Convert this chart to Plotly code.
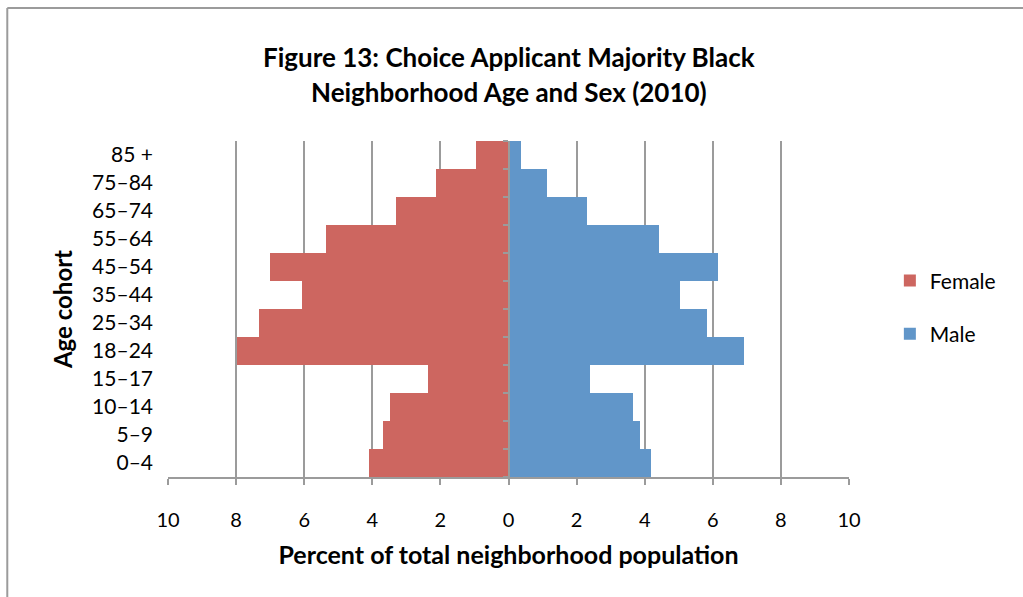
import plotly.graph_objects as go

# Age cohorts, bottom to top
cohorts = ["0–4", "5–9", "10–14", "15–17", "18–24", "25–34",
           "35–44", "45–54", "55–64", "65–74", "75–84", "85 +"]

# Percent of total neighborhood population
female = [4.09, 3.70, 3.47, 2.37, 7.96, 7.33, 6.07, 7.00, 5.36, 3.30, 2.12, 0.94]
male = [4.19, 3.87, 3.65, 2.39, 6.92, 5.82, 5.04, 6.14, 4.42, 2.31, 1.14, 0.36]

x_ticks = [-10, -8, -6, -4, -2, 0, 2, 4, 6, 8, 10]
x_tick_text = [str(abs(v)) for v in x_ticks]

FONT = "Lato"
GRID = "#9b9b9b"
FEMALE_COLOR = "#cd6660"
MALE_COLOR = "#6196c9"

fig = go.Figure()

fig.add_trace(go.Bar(
    y=cohorts, x=[-v for v in female], orientation="h", name="Female",
    marker=dict(color=FEMALE_COLOR, line=dict(width=0)),
    legendgroup="f", customdata=female,
    hovertemplate="%{y}: %{customdata}%<extra>Female</extra>",
))
fig.add_trace(go.Bar(
    y=cohorts, x=male, orientation="h", name="Male",
    marker=dict(color=MALE_COLOR, line=dict(width=0)),
    legendgroup="m",
    hovertemplate="%{y}: %{x}%<extra>Male</extra>",
))
# Invisible carrier for the central category axis
fig.add_trace(go.Scatter(
    y=cohorts, x=[0] * len(cohorts), yaxis="y2", mode="markers",
    marker=dict(opacity=0), showlegend=False, hoverinfo="skip",
))

fig.update_layout(
    width=1023, height=597,
    margin=dict(l=168, r=174, t=141, b=120),
    paper_bgcolor="white", plot_bgcolor="white",
    barmode="overlay", bargap=0,
    font=dict(family=FONT, color="#000000", size=20),
    showlegend=True,
    legend=dict(
        x=1.06, xanchor="left", y=0.645, yanchor="top",
        traceorder="grouped", tracegroupgap=23,
        font=dict(family=FONT, size=21), bgcolor="rgba(0,0,0,0)",
    ),
    xaxis=dict(
        range=[-10, 10], tickvals=x_ticks, ticktext=x_tick_text,
        showgrid=True, gridcolor=GRID, gridwidth=2, zeroline=False,
        showline=True, linecolor=GRID, linewidth=2,
        ticks="outside", ticklen=6, tickwidth=2, tickcolor=GRID,
        ticklabelstandoff=18, tickfont=dict(size=20),
        title=dict(text="<b>Percent of total neighborhood population</b>",
                   font=dict(size=25), standoff=16),
    ),
    yaxis=dict(
        type="category", categoryorder="array", categoryarray=cohorts,
        range=[-0.5, len(cohorts) - 0.5],
        showgrid=False, showline=False, ticks="", zeroline=False,
        ticklabelstandoff=14, tickfont=dict(size=21),
        title=dict(text="<b>Age cohort</b>", font=dict(size=24), standoff=12),
    ),
    yaxis2=dict(
        type="category", categoryorder="array", categoryarray=cohorts,
        range=[-0.5, len(cohorts) - 0.5],
        overlaying="y", anchor="free", position=0.5, side="left",
        showgrid=False, zeroline=False, showticklabels=False,
        showline=True, linecolor=GRID, linewidth=2,
        ticks="outside", ticklen=5, tickwidth=2, tickcolor=GRID,
        tickson="boundaries",
    ),
    annotations=[
        dict(text="<b>Figure 13: Choice Applicant Majority Black</b>",
             x=0.5, y=1.25, xref="paper", yref="paper",
             xanchor="center", yanchor="middle", showarrow=False,
             font=dict(family=FONT, size=26)),
        dict(text="<b>Neighborhood Age and Sex (2010)</b>",
             x=0.5, y=1.146, xref="paper", yref="paper",
             xanchor="center", yanchor="middle", showarrow=False,
             font=dict(family=FONT, size=26)),
    ],
    shapes=[
        # chart frame (top and left edges)
        dict(type="line", xref="paper", yref="paper",
             x0=-0.236, x1=1.3, y0=1.396, y1=1.396,
             line=dict(color=GRID, width=2)),
        dict(type="line", xref="paper", yref="paper",
             x0=-0.236, x1=-0.236, y0=1.396, y1=-0.4,
             line=dict(color=GRID, width=2)),
    ],
)

fig.write_html("out.html")
